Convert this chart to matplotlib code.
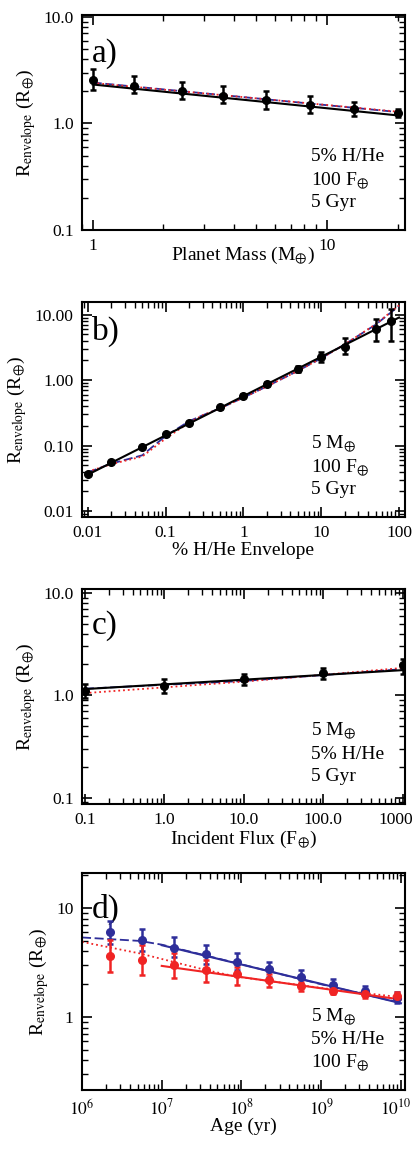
import numpy as np
import matplotlib
matplotlib.use("Agg")
from matplotlib import pyplot as plt
from matplotlib import transforms
from matplotlib.ticker import LogLocator, NullFormatter, FixedLocator, FixedFormatter

plt.rcParams['font.family'] = ['Liberation Serif', 'DejaVu Serif']
plt.rcParams['mathtext.fontset'] = 'stix'

BLUE = '#2e2e9a'
RED = '#f02424'
EARTH = '⊕'

# ---- panel a: planet mass ----
mass = [1.0, 1.5, 2.4, 3.6, 5.5, 8.5, 13.0, 20.0]
r_mass = [2.58, 2.26, 2.03, 1.82, 1.65, 1.49, 1.36, 1.24]
r_mass_lo = [2.06, 1.91, 1.69, 1.54, 1.36, 1.26, 1.17, 1.15]
r_mass_hi = [3.21, 2.78, 2.47, 2.26, 2.03, 1.79, 1.60, 1.36]
mass_line = [1.0, 20.0]
fit_mass = [2.32, 1.19]
dash_mass = [2.42, 1.28]
dot_mass = [2.40, 1.29]

# ---- panel b: envelope fraction ----
frac = [0.01, 0.02, 0.05, 0.1, 0.2, 0.5, 1, 2, 5, 10, 20, 50, 80]
r_frac = [0.0365, 0.0567, 0.0955, 0.149, 0.221, 0.381, 0.58, 0.873, 1.49, 2.21, 3.22, 5.93, 7.88]
r_frac_lo = [0.035, 0.054, 0.091, 0.142, 0.210, 0.362, 0.55, 0.81, 1.33, 1.87, 2.48, 3.99, 3.90]
r_frac_hi = [0.038, 0.059, 0.100, 0.156, 0.232, 0.400, 0.61, 0.94, 1.63, 2.69, 4.37, 8.63, 12.1]
frac_line = [0.01, 100]
fit_frac = [0.036, 9.0]
frac_curve = [0.01, 0.02, 0.05, 0.1, 0.2, 0.3, 0.5, 1, 2, 5, 10, 20, 50, 100]
dash_frac = [0.039, 0.053, 0.071, 0.140, 0.235, 0.29, 0.37, 0.54, 0.80, 1.38, 2.15, 3.5, 7.0, 13.5]
dot_frac = [0.040, 0.052, 0.068, 0.128, 0.225, 0.29, 0.37, 0.54, 0.80, 1.38, 2.15, 3.5, 7.1, 13.8]

# ---- panel c: incident flux ----
flux = [0.1, 1, 10, 100, 1000]
r_flux = [1.11, 1.24, 1.44, 1.65, 1.96]
r_flux_lo = [0.94, 1.05, 1.27, 1.45, 1.63]
r_flux_hi = [1.29, 1.45, 1.61, 1.85, 2.28]
flux_line = [0.1, 10, 1000]
fit_flux = [1.15, 1.42, 1.76]
dash_flux = [1.16, 1.38, 1.80]
dot_flux = [1.05, 1.36, 1.85]

# ---- panel d: age ----
age = [2.24e6, 5.6e6, 1.41e7, 3.55e7, 8.9e7, 2.24e8, 5.6e8, 1.41e9, 3.55e9, 8.9e9]
r_blue = [6.0, 5.08, 4.35, 3.76, 3.18, 2.74, 2.31, 1.97, 1.74, 1.51]
r_blue_lo = [4.73, 4.06, 3.53, 3.04, 2.70, 2.35, 2.01, 1.77, 1.59, 1.35]
r_blue_hi = [7.64, 6.37, 5.38, 4.57, 3.84, 3.18, 2.70, 2.26, 1.92, 1.71]
r_red = [3.65, 3.34, 3.00, 2.70, 2.46, 2.18, 1.92, 1.74, 1.63, 1.56]
r_red_lo = [2.61, 2.43, 2.30, 2.11, 1.97, 1.90, 1.73, 1.63, 1.51, 1.43]
r_red_hi = [5.15, 4.57, 3.84, 3.34, 2.90, 2.51, 2.11, 1.90, 1.77, 1.71]
age_fit = [1e7, 1e10]
fit_blue = [4.57, 1.34]
fit_red = [2.95, 1.45]
age_curve = [1e6, 5.3e6, 1e7, 1e8, 1e9, 1e10]
dash_blue = [5.38, 5.0, 4.62, 3.05, 2.0, 1.35]
age_dot = [1e6, 5.3e6, 1.4e7, 3.6e7, 8.7e7, 1e9, 1e10]
dot_red = [4.9, 3.84, 3.21, 2.7, 2.35, 1.85, 1.52]

fig = plt.figure(figsize=(4.15, 11.49), dpi=100)
L, W, H = 0.1976, 0.778, 0.1871
axa = fig.add_axes([L, 0.7998, W, H])
axb = fig.add_axes([L, 0.5500, W, H])
axc = fig.add_axes([L, 0.3003, W, H])
axd = fig.add_axes([L, 0.0513, W, 0.1889])


def style(ax):
    ax.set_xscale('log')
    ax.set_yscale('log')
    for s in ax.spines.values():
        s.set_linewidth(1.5)
    ax.tick_params(which='both', direction='in', top=True, right=True, labelsize=12.5, pad=6)
    ax.tick_params(which='major', length=7, width=1.2)
    ax.tick_params(which='minor', length=4, width=1.0)
    ax.xaxis.set_minor_locator(LogLocator(base=10, subs=np.arange(2, 10), numticks=20))
    ax.yaxis.set_minor_locator(LogLocator(base=10, subs=np.arange(2, 10), numticks=20))
    ax.xaxis.set_minor_formatter(NullFormatter())
    ax.yaxis.set_minor_formatter(NullFormatter())
    ax.set_ylabel(r'R$_{\rm envelope}$ (R$_{' + EARTH + '}$)', fontsize=14)


def ticks(ax, axis, vals, labels):
    a = ax.xaxis if axis == 'x' else ax.yaxis
    a.set_major_locator(FixedLocator(vals))
    a.set_major_formatter(FixedFormatter(labels))


def nudge_last(ax, dx):
    # keep the last x tick label inside the figure, as in the original
    lab = ax.get_xticklabels()[-1]
    lab.set_transform(lab.get_transform() + transforms.ScaledTranslation(dx / 72, 0, fig.dpi_scale_trans))


def points(ax, x, y, lo, hi, color):
    y = np.array(y)
    err = [y - np.array(lo), np.array(hi) - y]
    ax.errorbar(x, y, yerr=err, fmt='o', color=color, ms=5.5, elinewidth=1.8,
                capsize=2.5, capthick=1.8, zorder=5)


def notes(ax, lines, label, ly):
    for t, yy in zip(lines, [0.34, 0.232, 0.127]):
        ax.text(0.71, yy, t, transform=ax.transAxes, fontsize=14, va='center')
    ax.text(0.03, ly, label, transform=ax.transAxes, fontsize=24, va='center')


def xlab(ax, text, y):
    ax.set_xlabel(text, fontsize=14)
    ax.xaxis.set_label_coords(0.5, y)


# panel a
style(axa)
axa.plot(mass_line, dash_mass, ls=(0, (5, 2)), color=BLUE, lw=1.3)
axa.plot(mass_line, dot_mass, ls=':', color=RED, lw=1.3)
axa.plot(mass_line, fit_mass, color='k', lw=1.5)
points(axa, mass, r_mass, r_mass_lo, r_mass_hi, 'k')
axa.set_xlim(0.9, 21.5)
axa.set_ylim(0.1, 10.4)
ticks(axa, 'x', [1, 10], ['1', '10'])
ticks(axa, 'y', [0.1, 1, 10], ['0.1', '1.0', '10.0'])
xlab(axa, r'Planet Mass (M$_{' + EARTH + '}$)', -0.065)
notes(axa, ['5% H/He', r'100 F$_{' + EARTH + '}$', '5 Gyr'], 'a)', 0.822)

# panel b
style(axb)
axb.plot(frac_curve, dash_frac, ls=(0, (5, 2)), color=BLUE, lw=1.3)
axb.plot(frac_curve, dot_frac, ls=':', color=RED, lw=1.3)
axb.plot(frac_line, fit_frac, color='k', lw=1.5)
points(axb, frac, r_frac, r_frac_lo, r_frac_hi, 'k')
axb.set_xlim(0.0084, 119)
axb.set_ylim(0.0081, 15.5)
ticks(axb, 'x', [0.01, 0.1, 1, 10, 100], ['0.01', '0.1', '1', '10', '100'])
ticks(axb, 'y', [0.01, 0.1, 1, 10], ['0.01', '0.10', '1.00', '10.00'])
xlab(axb, '% H/He Envelope', -0.115)
notes(axb, [r'5 M$_{' + EARTH + '}$', r'100 F$_{' + EARTH + '}$', '5 Gyr'], 'b)', 0.862)

# panel c
style(axc)
axc.plot(flux_line, dash_flux, ls=(0, (5, 2)), color=BLUE, lw=1.3)
axc.plot(flux_line, dot_flux, ls=':', color=RED, lw=1.3)
axc.plot(flux_line, fit_flux, color='k', lw=1.5)
points(axc, flux, r_flux, r_flux_lo, r_flux_hi, 'k')
axc.set_xlim(0.092, 1060)
axc.set_ylim(0.087, 10.9)
ticks(axc, 'x', [0.1, 1, 10, 100, 1000], ['0.1', '1.0', '10.0', '100.0', '1000'])
ticks(axc, 'y', [0.1, 1, 10], ['0.1', '1.0', '10.0'])
nudge_last(axc, -5)
xlab(axc, r'Incident Flux (F$_{' + EARTH + '}$)', -0.115)
notes(axc, [r'5 M$_{' + EARTH + '}$', '5% H/He', '5 Gyr'], 'c)', 0.829)

# panel d
style(axd)
axd.plot(age_curve, dash_blue, ls=(0, (5, 2)), color=BLUE, lw=1.3)
axd.plot(age_dot, dot_red, ls=':', color=RED, lw=1.3)
axd.plot(age_fit, fit_blue, color=BLUE, lw=1.5)
axd.plot(age_fit, fit_red, color=RED, lw=1.5)
points(axd, age, r_blue, r_blue_lo, r_blue_hi, BLUE)
points(axd, age, r_red, r_red_lo, r_red_hi, RED)
axd.set_xlim(1e6, 1.12e10)
axd.set_ylim(0.214, 21)
ticks(axd, 'x', [1e6, 1e7, 1e8, 1e9, 1e10],
      [r'$10^6$', r'$10^7$', r'$10^8$', r'$10^9$', r'$10^{10}$'])
ticks(axd, 'y', [1, 10], ['1', '10'])
nudge_last(axd, -4)
xlab(axd, 'Age (yr)', -0.128)
notes(axd, [r'5 M$_{' + EARTH + '}$', '5% H/He', r'100 F$_{' + EARTH + '}$'], 'd)', 0.834)

fig.savefig('out.png', dpi=100)
